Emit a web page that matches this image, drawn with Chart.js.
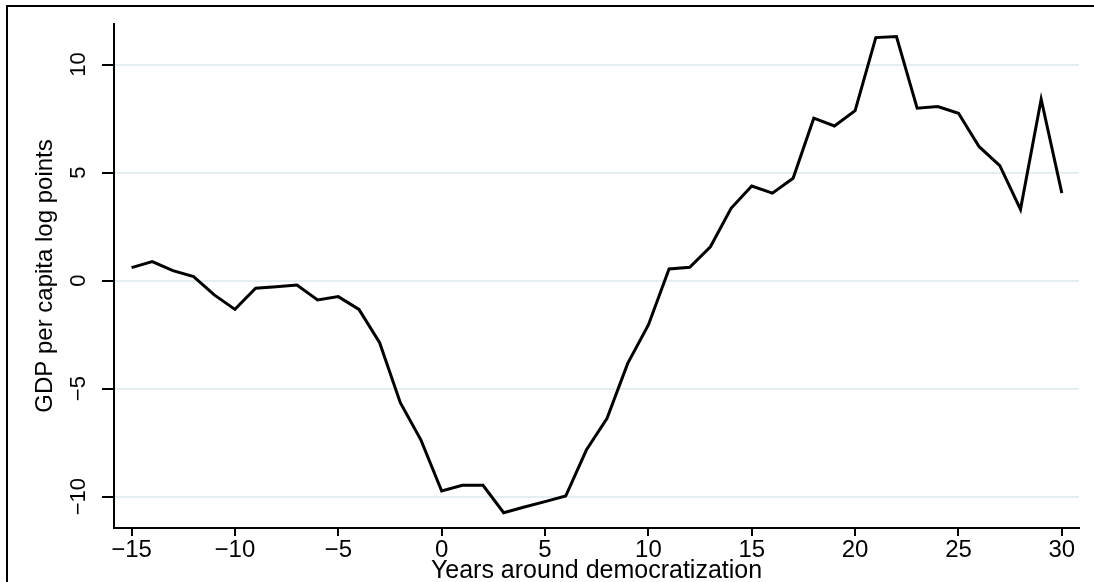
<!DOCTYPE html>
<html>
<head>
<meta charset="utf-8">
<script src="https://cdn.jsdelivr.net/npm/chart.js@4.4.1/dist/chart.umd.min.js"></script>
<style>
  html, body { margin: 0; padding: 0; background: #fff; }
  canvas { display: block; }
</style>
</head>
<body>
<canvas id="grafico" width="1094" height="582"></canvas>
<script>
// Years around democratization, and the GDP per capita effect (log points)
const anos = [-15, -14, -13, -12, -11, -10, -9, -8, -7, -6,
              -5, -4, -3, -2, -1, 0, 1, 2, 3, 4,
              5, 6, 7, 8, 9, 10, 11, 12, 13, 14,
              15, 16, 17, 18, 19, 20, 21, 22, 23, 24,
              25, 26, 27, 28, 29, 30];
const pib = [0.60, 0.88, 0.46, 0.19, -0.66, -1.33, -0.35, -0.28, -0.20, -0.89,
             -0.74, -1.33, -2.87, -5.65, -7.38, -9.74, -9.47, -9.47, -10.74, -10.48,
             -10.23, -9.97, -7.84, -6.37, -3.83, -2.05, 0.54, 0.62, 1.57, 3.35,
             4.38, 4.05, 4.74, 7.52, 7.16, 7.87, 11.25, 11.30, 7.98, 8.06,
             7.75, 6.20, 5.32, 3.30, 8.40, 4.05];
const ticksX = [-15, -10, -5, 0, 5, 10, 15, 20, 25, 30];
const ticksY = [-10, -5, 0, 5, 10];

const fonte = 'Liberation Sans, Arial, Helvetica, sans-serif';

function menos(v) {
    return v < 0 ? '\u2212' + Math.abs(v) : String(v);
}

// white page with the thin frame on top and left
const moldura = {
    id: 'moldura',
    beforeDraw(chart) {
        const c = chart.ctx;
        c.save();
        c.fillStyle = '#fff';
        c.fillRect(0, 0, chart.width, chart.height);
        c.strokeStyle = '#000';
        c.lineWidth = 2;
        c.beginPath();
        c.moveTo(7, chart.height);
        c.lineTo(7, 6);
        c.lineTo(chart.width, 6);
        c.stroke();
        c.restore();
    }
};

const ctx = document.getElementById('grafico').getContext('2d');

new Chart(ctx, {
    type: 'line',
    data: {
        datasets: [{
            data: anos.map((a, i) => ({ x: a, y: pib[i] })),
            borderColor: '#000',
            borderWidth: 3,
            pointRadius: 0,
            tension: 0,
            fill: false
        }]
    },
    options: {
        responsive: false,
        animation: false,
        devicePixelRatio: 1,
        layout: { padding: { left: 0, top: 24, right: 15, bottom: 0 } },
        plugins: { legend: { display: false }, tooltip: { enabled: false } },
        scales: {
            x: {
                type: 'linear',
                min: -15.85,
                max: 30.83,
                afterFit: s => { s.height = 54; },
                afterBuildTicks: s => { s.ticks = ticksX.map(v => ({ value: v })); },
                grid: { drawOnChartArea: false, color: '#000', tickLength: 8, lineWidth: 2 },
                border: { display: true, color: '#000', width: 2 },
                ticks: {
                    padding: 0,
                    maxRotation: 0,
                    color: '#000',
                    font: { family: fonte, size: 24 },
                    callback: v => menos(v)
                },
                title: {
                    display: true,
                    text: 'Years around democratization',
                    color: '#000',
                    padding: 0,
                    font: { family: fonte, size: 25, lineHeight: 0.85 }
                }
            },
            y: {
                min: -11.45,
                max: 11.88,
                afterFit: s => { s.width = 114; },
                afterBuildTicks: s => { s.ticks = ticksY.map(v => ({ value: v })); },
                grid: { color: '#e4eef2', lineWidth: 2, tickColor: '#000', tickLength: 12 },
                border: { display: true, color: '#000', width: 2 },
                ticks: {
                    minRotation: 90,
                    maxRotation: 90,
                    crossAlign: 'center',
                    padding: 4,
                    color: '#000',
                    font: { family: fonte, size: 22 },
                    callback: v => menos(v)
                },
                title: {
                    display: true,
                    text: 'GDP per capita log points',
                    color: '#000',
                    padding: { top: 33, bottom: 0 },
                    font: { family: fonte, size: 24, lineHeight: 1 }
                }
            }
        }
    },
    plugins: [moldura]
});
</script>
</body>
</html>
